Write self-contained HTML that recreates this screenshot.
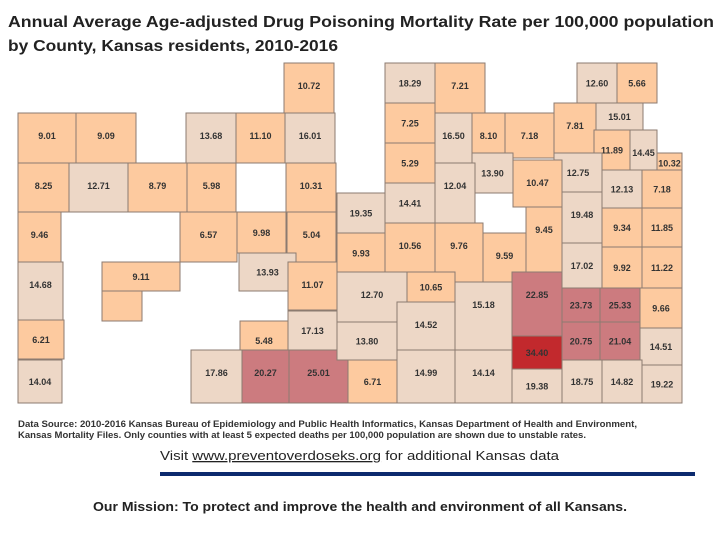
<!DOCTYPE html>
<html><head><meta charset="utf-8"><style>
html,body{margin:0;padding:0;background:#fff;}
svg{display:block;font-family:"Liberation Sans",sans-serif;}
</style></head><body>
<svg id="chart" width="720" height="540" viewBox="0 0 720 540" xmlns="http://www.w3.org/2000/svg">
<text x="8" y="27" font-size="16" font-weight="bold" fill="#222" textLength="706" lengthAdjust="spacingAndGlyphs">Annual Average Age-adjusted Drug Poisoning Mortality Rate per 100,000 population</text>
<text x="8" y="51" font-size="16" font-weight="bold" fill="#222" textLength="330" lengthAdjust="spacingAndGlyphs">by County, Kansas residents, 2010-2016</text>
<g id="map"></g>
<text x="18" y="427" font-size="9.5" font-weight="bold" fill="#333" textLength="619" lengthAdjust="spacingAndGlyphs">Data Source: 2010-2016 Kansas Bureau of Epidemiology and Public Health Informatics, Kansas Department of Health and Environment,</text>
<text x="18" y="438" font-size="9.5" font-weight="bold" fill="#333" textLength="568" lengthAdjust="spacingAndGlyphs">Kansas Mortality Files. Only counties with at least 5 expected deaths per 100,000 population are shown due to unstable rates.</text>
<text x="160" y="460" font-size="13" fill="#222" textLength="399" lengthAdjust="spacingAndGlyphs">Visit <tspan text-decoration="underline" fill="#222">www.preventoverdoseks.org</tspan> for additional Kansas data</text>
<rect x="160" y="472" width="535" height="4" fill="#0c2a6e"/>
<text x="93" y="511" font-size="13" font-weight="bold" fill="#222" textLength="534" lengthAdjust="spacingAndGlyphs">Our Mission: To protect and improve the health and environment of all Kansans.</text>
</svg>
<script>
const rates=[10.72,9.01,9.09,13.68,11.10,16.01,8.25,12.71,8.79,5.98,10.31,9.46,6.57,9.98,5.04,13.93,9.11,14.68,11.07,6.21,14.04,5.48,17.13,17.86,20.27,25.01,
18.29,7.21,12.60,5.66,7.25,16.50,5.29,8.10,7.18,7.81,15.01,11.89,14.45,10.32,12.75,13.90,10.47,12.13,7.18,14.41,12.04,19.35,9.93,10.56,9.76,9.59,9.45,19.48,9.34,11.85,17.02,9.92,11.22,12.70,10.65,14.52,15.18,22.85,23.73,25.33,9.66,13.80,20.75,21.04,14.51,34.40,6.71,14.99,14.14,19.38,18.75,14.82,19.22];
const binEdges=[12,20,30];
const binColors=['#fdca9f','#edd7c6','#cc7b7f','#c2292d'];
const shapes=[[284,63,50,50],[18,113,58,50],[76,113,60,50],[186,113,50,50],[236,113,49,50],[285,113,50,50],[18,163,51,49],[69,163,59,49],[128,163,59,49],[187,163,49,49],[286,163,50,49],[18,212,43,50],[180,212,57,50],[237,212,49,41],[287,212,49,50],[239,253,57,38],[102,262,78,29],[18,262,45,58],[288,262,49,48],[18,320,46,39],[18,360,44,43],[240,321,48,39],[288,311,49,39],[191,350,51,53],[242,350,47,53],[289,350,59,53],
[385,63,50,40],[435,63,50,50],[577,63,40,40],[617,63,40,40],[385,103,50,40],[435,113,37,50],[385,143,50,40],[472,113,33,60],[505,113,49,45],[554,103,42,50],[596,103,47,27],[594,130,36,40],[630,130,27,50],[657,153,25,20],[554,153,48,39],[472,153,41,40],[513,160,49,47],[602,170,40,38],[642,170,40,38],[385,183,50,40],[435,163,40,60],[337,193,48,40],[337,233,48,40],[385,223,50,49],[435,223,48,59],[483,233,43,49],[526,207,36,65],[562,192,40,51],[602,208,40,39],[642,208,40,39],[562,243,40,45],[602,247,40,41],[642,247,40,41],[337,272,70,50],[407,272,48,30],[397,302,58,48],[455,282,57,68],[512,272,50,64],[562,288,38,34],[600,288,40,34],[640,288,42,40],[337,322,60,38],[562,322,38,38],[600,322,40,38],[640,328,42,37],[512,336,50,33],[348,360,49,43],[397,350,58,53],[455,350,57,53],[512,369,50,34],[562,360,40,43],[602,360,40,43],[642,365,40,38]];
function colorFor(v){let i=0;while(i<binEdges.length&&v>=binEdges[i])i++;return binColors[i];}
const NS='http://www.w3.org/2000/svg';
const g=document.getElementById('map');
rates.forEach((v,i)=>{const s=shapes[i];
 const r=document.createElementNS(NS,'rect');
 r.setAttribute('x',s[0]);r.setAttribute('y',s[1]);r.setAttribute('width',s[2]);r.setAttribute('height',s[3]);
 r.setAttribute('fill',colorFor(v));r.setAttribute('stroke','#8c7b70');r.setAttribute('stroke-width','1');
 
 
 g.appendChild(r);
 const t=document.createElementNS(NS,'text');
 t.setAttribute('x',s[0]+s[2]/2);t.setAttribute('y',s[1]+Math.min(s[3],45)/2+3.5);
 t.setAttribute('text-anchor','middle');t.setAttribute('font-size','9');t.setAttribute('font-weight','bold');t.setAttribute('fill','#333');
 t.textContent=v.toFixed(2);
 
 
 g.appendChild(t);
});
const tail=document.createElementNS(NS,'rect');
tail.setAttribute('x',102);tail.setAttribute('y',290);tail.setAttribute('width',40);tail.setAttribute('height',31);
tail.setAttribute('fill',colorFor(rates[16]));tail.setAttribute('stroke','#8c7b70');


g.insertBefore(tail,g.firstChild);
</script>
</body></html>
